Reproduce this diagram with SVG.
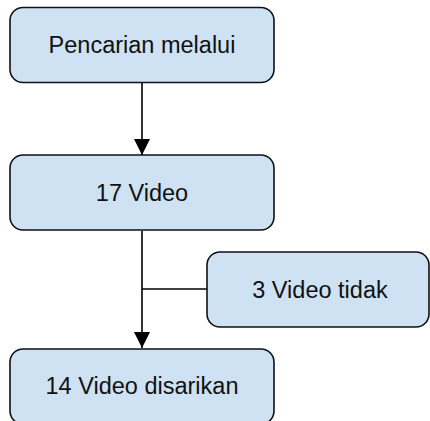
<svg xmlns="http://www.w3.org/2000/svg" width="430" height="421" viewBox="0 0 430 421">
<style>
.box{fill:#cfe2f3;stroke:#111;stroke-width:1.6}
.t{font-family:"Liberation Sans",Arial,sans-serif;font-size:23.5px;fill:#111;text-anchor:middle}
.ln{stroke:#000;stroke-width:1.6;fill:none}
</style>
<defs>
<marker id="ah" markerUnits="userSpaceOnUse" markerWidth="16" markerHeight="17" refX="16" refY="8" orient="auto" viewBox="0 0 16 16">
<path d="M0,0 L16,8 L0,16 Z" fill="#000"/>
</marker>
</defs>
<rect width="430" height="421" fill="#fff"/>
<g id="connectors">
<line class="ln" x1="142" y1="83" x2="142" y2="155" marker-end="url(#ah)"/>
<line class="ln" x1="142" y1="231" x2="142" y2="348" marker-end="url(#ah)"/>
<line class="ln" x1="142" y1="289" x2="207" y2="289"/>
</g>
<g id="node1">
<rect class="box" x="10" y="7.5" width="264" height="75" rx="13"/>
<text class="t" x="142" y="53">Pencarian melalui</text>
</g>
<g id="node2">
<rect class="box" x="10" y="155" width="264" height="75" rx="13"/>
<text class="t" x="142" y="200.5">17 Video</text>
</g>
<g id="node3">
<rect class="box" x="207" y="252" width="222" height="75" rx="13"/>
<text class="t" x="320" y="297.5">3 Video tidak</text>
</g>
<g id="node4">
<rect class="box" x="10" y="349" width="264" height="75" rx="13"/>
<text class="t" x="142" y="393.5">14 Video disarikan</text>
</g>
</svg>
